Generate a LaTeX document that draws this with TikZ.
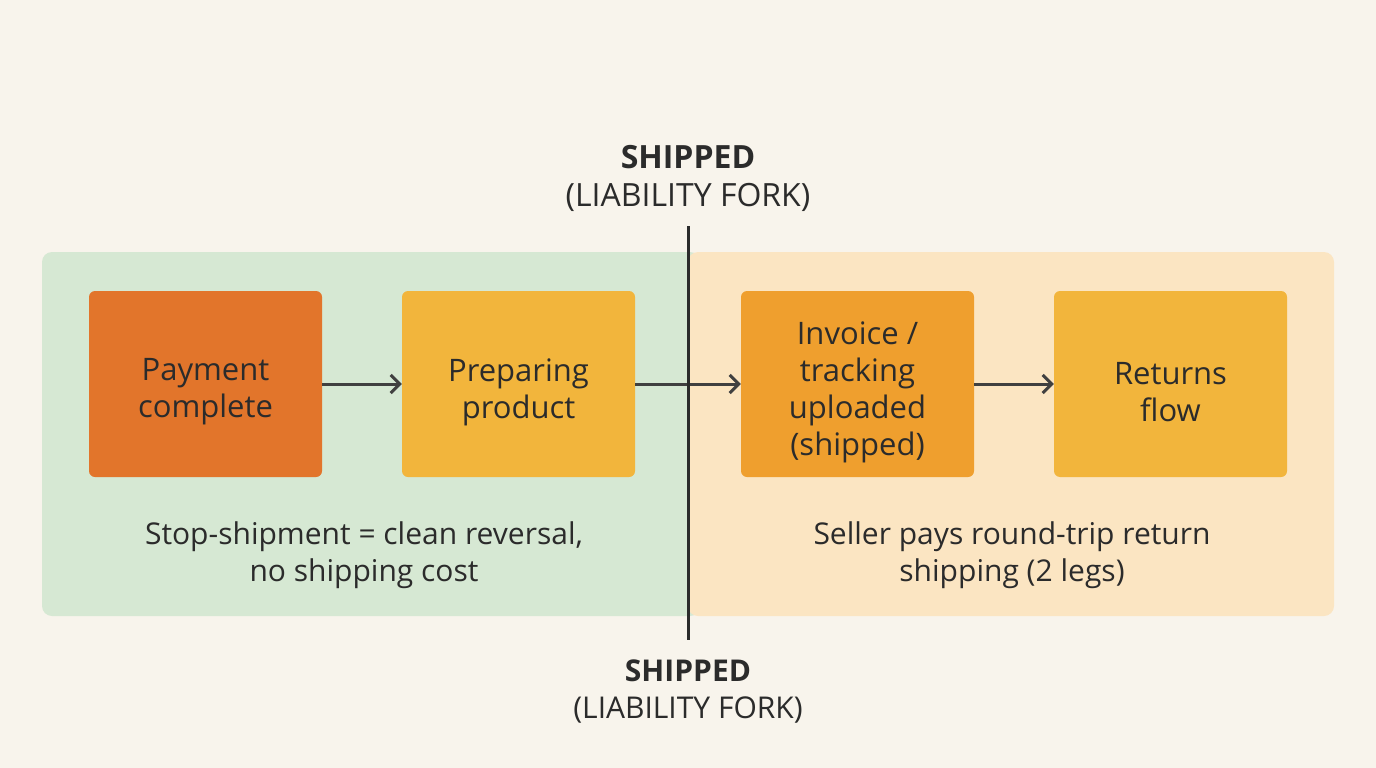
\documentclass[tikz,border=0pt]{standalone}
\usepackage{fontspec}
\setmainfont{Open Sans}
\usetikzlibrary{arrows.meta}
\definecolor{bg}{HTML}{F8F4EC}
\definecolor{gpan}{HTML}{D6E8D3}
\definecolor{opan}{HTML}{FBE5C2}
\definecolor{c1}{HTML}{E2752B}
\definecolor{c2}{HTML}{F2B53C}
\definecolor{c3}{HTML}{EF9F2E}
\definecolor{ink}{HTML}{2B2B2B}
\begin{document}
\begin{tikzpicture}[x=1pt,y=-1pt,
  box/.style={rounded corners=6pt,minimum width=233pt,minimum height=186pt,inner sep=0pt,align=center,text=ink},
  btxt/.style={align=center,text=ink,font=\fontsize{31}{37}\selectfont},
  lab/.style={align=center,text=ink,font=\fontsize{30}{37}\selectfont},
  arr/.style={-{Straight Barb[length=9pt,width=18pt,line width=3pt]},line width=3pt,draw=ink!90}]
\useasboundingbox (0,0) rectangle (1376,768);
\fill[bg] (0,0) rectangle (1376,768);
\fill[gpan,rounded corners=10pt] (42,252) rectangle (700,616);
\fill[opan,rounded corners=10pt] (688,252) rectangle (1334,616);
\fill[gpan] (680,252) rectangle (688,616);
\node[box,fill=c1] (a) at (205.5,384) {};
\node[box,fill=c2] (b) at (518.5,384) {};
\node[box,fill=c3] (c) at (857.5,384) {};
\node[box,fill=c2] (d) at (1170.5,384) {};
\node[btxt] (at) at (205.5,392) {Payment\\complete};
\node[btxt] (bt) at (518.5,392) {Preparing\\product};
\node[btxt] (ct) at (857.5,392) {Invoice /\\tracking\\uploaded\\(shipped)};
\node[btxt] (dt) at (1170.5,392) {Returns\\flow};
\draw[arr] (a) -- (b);
\draw[arr] (b) -- (c);
\draw[arr] (c) -- (d);
\coordinate (t) at (688,226);
\coordinate (u) at (688,640);
\draw[line width=3pt,draw=ink] (t) -- (u);
\node[align=center,text=ink,font=\fontsize{32}{38}\selectfont] (top) at (688,178) {\textbf{SHIPPED}\\(LIABILITY FORK)};
\node[lab] (bot) at (688,692) {\textbf{SHIPPED}\\(LIABILITY FORK)};
\node[lab] (l) at (364,555) {Stop-shipment = clean reversal,\\no shipping cost};
\node[lab] (r) at (1012,555) {Seller pays round-trip return\\shipping (2 legs)};
\end{tikzpicture}
\end{document}
